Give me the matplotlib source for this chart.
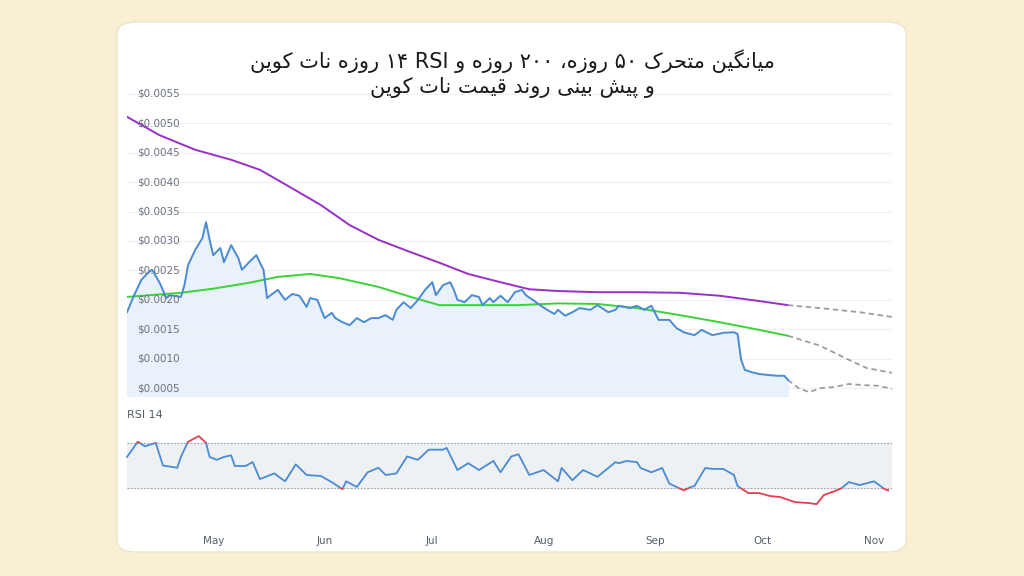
import numpy as np
import matplotlib
matplotlib.use("Agg")
import matplotlib.pyplot as plt
from matplotlib.patches import FancyBboxPatch, Rectangle

# ---------------- data ----------------
base_date = np.datetime64("2024-04-07")
price_days = [0,2,4,6,7,9,11,12,15,16,
              17,19,21,22,23,24,26,27,29,31,
              32,34,36,38,39,40,42,44,46,48,
              50,51,53,55,57,58,60,62,64,66,
              68,70,72,74,75,77,79,81,83,85,
              86,88,90,91,92,94,96,98,99,101,
              102,104,106,108,110,111,113,115,117,119,
              120,122,124,126,129,131,134,136,137,140,
              142,144,146,148,151,153,155,158,160,163,
              166,169,170,171,172,174,176,179,181,183,
              184]
price_e5 = [179,208,234,247,251,230,203,208,205,225,
            259,285,305,332,302,276,288,264,293,271,
            251,264,276,251,203,208,217,200,210,207,
            188,203,200,169,178,169,162,157,169,162,
            169,169,174,166,183,196,186,200,217,230,
            208,225,230,217,200,196,208,205,191,203,
            196,207,196,213,217,208,200,191,183,176,
            183,173,179,186,183,191,179,183,190,186,
            190,183,190,166,166,152,145,140,149,140,
            144,145,142,98,81,77,74,72,71,71,
            64]
fc_price_days = [184,187,190,193,197,201,205,209,213]
fc_price = [0.00064,0.00050,0.00043,0.00050,0.00052,0.00057,0.00055,0.00054,0.00049]

sma50_days = [0,15,24,34,42,51,59,70,79,87,98,109,120,131,142,154,165,176,184]
sma50 = [0.00205,0.00212,0.00219,0.00229,0.00239,0.00244,0.00237,0.00222,0.00205,0.00191,
         0.00191,0.00191,0.00194,0.00193,0.00186,0.00174,0.00162,0.00149,0.00139]
fc_sma50_days = [184,193,201,206,213]
fc_sma50 = [0.00139,0.00122,0.00098,0.00084,0.00076]

sma200_days = [0,9,19,29,37,45,54,62,70,79,87,95,104,112,120,131,142,154,165,176,184]
sma200 = [0.00511,0.00480,0.00455,0.00438,0.00421,0.00393,0.00361,0.00327,0.00302,0.00281,
          0.00263,0.00244,0.00230,0.00218,0.00215,0.00213,0.00213,0.00212,0.00207,0.00198,0.00191]
fc_sma200_days = [184,193,204,213]
fc_sma200 = [0.00191,0.00186,0.00179,0.00171]

rsi_days = [0,3,5,8,10,14,15,17,20,22,23,25,27,29,30,33,35,37,41,44,47,50,54,57,60,61,64,67,70,72,
            75,78,81,84,88,89,92,95,98,102,104,107,109,112,116,120,121,124,127,131,134,136,137,139,
            142,143,146,149,151,155,157,158,161,163,166,169,170,173,176,179,182,186,190,192,194,197,
            199,201,204,208,211,212]
rsi = [57.6,71,67,70,50,48,57.6,71,76,70,57.6,55,57.6,59,49.6,49.6,53,38,43,36,51,41.6,40.7,35.3,29,36,31,44,48,41.6,
       43,58,55,64,64,65.6,46,52,46,54,44,58,60,41.6,46,36,47.8,37,46,40,47.8,53,52,54,
       53,47.8,44,47.8,34,28,31,31.8,47.8,47,47,41.6,31.8,25.6,25.6,23,22,17.6,16.7,15.8,23.8,27.3,
       30,35.3,32.7,36,29,28]

yticks = [0.0005,0.0010,0.0015,0.0020,0.0025,0.0030,0.0035,0.0040,0.0045,0.0050,0.0055]
month_ticks = ["2024-05-01","2024-06-01","2024-07-01","2024-08-01","2024-09-01","2024-10-01","2024-11-01"]
month_labels = ["May","Jun","Jul","Aug","Sep","Oct","Nov"]
title_lines = ["میانگین متحرک ۵۰ روزه، ۲۰۰ روزه و RSI ۱۴ روزه نات کوین",
               "و پیش بینی روند قیمت نات کوین"]

# ---------------- simple Persian shaping (matplotlib has no bidi) ----------------
FORMS = {  # iso, fin, ini, med
    'ا': ('\uFE8D', '\uFE8E', None, None),
    'ب': ('\uFE8F', '\uFE90', '\uFE91', '\uFE92'),
    'پ': ('\uFB56', '\uFB57', '\uFB58', '\uFB59'),
    'ت': ('\uFE95', '\uFE96', '\uFE97', '\uFE98'),
    'ح': ('\uFEA1', '\uFEA2', '\uFEA3', '\uFEA4'),
    'ر': ('\uFEAD', '\uFEAE', None, None),
    'ز': ('\uFEAF', '\uFEB0', None, None),
    'ش': ('\uFEB5', '\uFEB6', '\uFEB7', '\uFEB8'),
    'ق': ('\uFED5', '\uFED6', '\uFED7', '\uFED8'),
    'ک': ('\uFB8E', '\uFB8F', '\uFB90', '\uFB91'),
    'گ': ('\uFB92', '\uFB93', '\uFB94', '\uFB95'),
    'م': ('\uFEE1', '\uFEE2', '\uFEE3', '\uFEE4'),
    'ن': ('\uFEE5', '\uFEE6', '\uFEE7', '\uFEE8'),
    'ه': ('\uFEE9', '\uFEEA', '\uFEEB', '\uFEEC'),
    'و': ('\uFEED', '\uFEEE', None, None),
    'ی': ('\uFBFC', '\uFBFD', '\uFBFE', '\uFBFF'),
    'د': ('\uFEA9', '\uFEAA', None, None),
}

def shape_word(w):
    if not any(c in FORMS for c in w):
        return w
    out = []
    for i, c in enumerate(w):
        if c not in FORMS:
            out.append(c)
            continue
        prev = w[i-1] if i > 0 else None
        nxt = w[i+1] if i + 1 < len(w) else None
        jp = prev in FORMS and FORMS[prev][2] is not None
        jn = FORMS[c][2] is not None and nxt in FORMS
        f = FORMS[c]
        out.append(f[3] if (jp and jn) else f[1] if jp else f[2] if jn else f[0])
    return "".join(out[::-1])

def shape_line(s):
    # right-to-left visual order: words reversed, each Persian word shaped and reversed
    return " ".join(shape_word(w) for w in s.split(" ")[::-1])

# ---------------- figure ----------------
W, H = 1024, 576
fig = plt.figure(figsize=(W/100, H/100), dpi=100)
fig.patch.set_facecolor("#f9efd3")
card = FancyBboxPatch((117/W, 1-552/H), 789/W, 530/H,
                      boxstyle="round,pad=0,rounding_size=0.02",
                      transform=fig.transFigure, facecolor="white",
                      edgecolor="#ece4cc", linewidth=1, zorder=-10)
fig.patches.append(card)

for i, line in enumerate(title_lines):
    fig.text(512/W, 1-(61+26*i)/H, shape_line(line), ha="center", va="center",
             fontsize=15, color="#1a1a1a", family=["DejaVu Sans"])

def to_dates(days):
    return base_date + np.array(days).astype("timedelta64[D]")

xmin, xmax = to_dates([0])[0], to_dates([213])[0]

ax = fig.add_axes([127/W, 1-396/H, 765/W, 308/H])
ax.set_facecolor("none")
ax.set_xlim(xmin, xmax)
ax.set_ylim(0.000366, 0.0056)
for s in ax.spines.values():
    s.set_visible(False)
ax.set_xticks([]); ax.set_yticks([])
for v in yticks:
    ax.axhline(v, color="#eef0f3", lw=0.8, zorder=2)
    ax.text(0.013, v, f"${v:.4f}", transform=ax.get_yaxis_transform(),
            ha="left", va="center", fontsize=7.5, color="#6b7280", zorder=6)

pd_ = to_dates(price_days)
pv = np.array(price_e5) * 1e-5
ax.fill_between(pd_, pv, 0, color="#e9f1fa", zorder=1)
ax.plot(pd_, pv, color="#4a8bd4", lw=1.4, zorder=4)
ax.plot(to_dates(fc_price_days), fc_price, color="#9e9e9e", lw=1.3, ls=(0, (3, 2)), zorder=3)
ax.plot(to_dates(sma50_days), sma50, color="#3ad33a", lw=1.4, zorder=3)
ax.plot(to_dates(fc_sma50_days), fc_sma50, color="#9e9e9e", lw=1.3, ls=(0, (3, 2)), zorder=3)
ax.plot(to_dates(sma200_days), sma200, color="#9a2ec8", lw=1.4, zorder=3)
ax.plot(to_dates(fc_sma200_days), fc_sma200, color="#9e9e9e", lw=1.3, ls=(0, (3, 2)), zorder=3)

# RSI panel
ax2 = fig.add_axes([127/W, 1-522/H, 765/W, 113/H])
ax2.set_facecolor("none")
ax2.set_xlim(xmin, xmax)
ax2.set_ylim(0, 100)
for s in ax2.spines.values():
    s.set_visible(False)
ax2.set_yticks([])
ax2.axhspan(30, 70, color="#edf1f4", zorder=0)
for v in (30, 70):
    ax2.axhline(v, color="#9aa3ad", lw=0.8, ls=(0, (1.5, 1.5)), zorder=1)
rd = to_dates(rsi_days)
lb, = ax2.plot(rd, rsi, color="#4a8bd4", lw=1.3, zorder=3)
lb.set_clip_path(Rectangle((0, 30), 1e6, 40, transform=ax2.transData))
for y0, h in ((70, 40), (-10, 40)):
    lr, = ax2.plot(rd, rsi, color="#e0404f", lw=1.3, zorder=3)
    lr.set_clip_path(Rectangle((0, y0), 1e6, h, transform=ax2.transData))
ax2.text(0, 0.95, "RSI 14", transform=ax2.transAxes, fontsize=8, color="#555e68",
         ha="left", va="center")
ax2.set_xticks(np.array(month_ticks, dtype="datetime64[D]"))
ax2.set_xticklabels(month_labels)
ax2.tick_params(axis="x", length=0, labelsize=7.5, labelcolor="#555e68", pad=10)

fig.savefig("out.png", dpi=100)
